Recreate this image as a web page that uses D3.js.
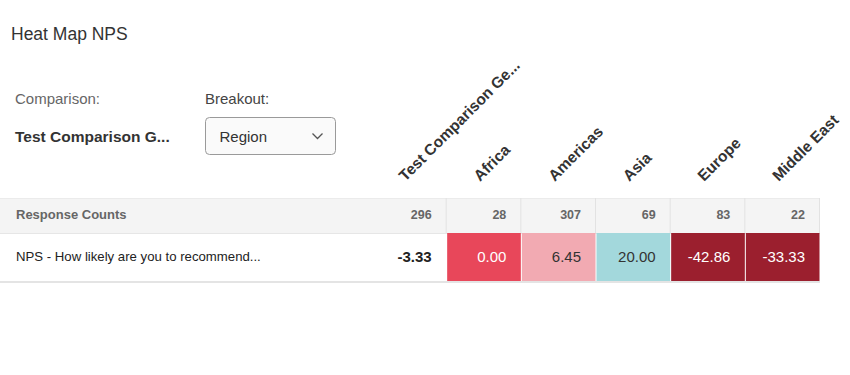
<!DOCTYPE html>
<html>
<head>
<meta charset="utf-8">
<script src="https://cdn.jsdelivr.net/npm/d3@7"></script>
<style>
  body { margin: 0; background: #fff; font-family: "Liberation Sans", Arial, sans-serif; }
</style>
</head>
<body>
<script>
// data
var columns = ["Test Comparison Ge...", "Africa", "Americas", "Asia", "Europe", "Middle East"]
var counts = [296, 28, 307, 69, 83, 22]
var npsValues = [-3.33, 0.00, 6.45, 20.00, -42.86, -33.33]
var rowLabels = ["Response Counts", "NPS - How likely are you to recommend..."]

var width = 850, height = 375

var svg = d3.select("body").append("svg")
  .attr("width", width)
  .attr("height", height)

// header text
svg.append("text").attr("x", 11).attr("y", 40)
  .attr("font-size", 17.5).attr("fill", "#333").text("Heat Map NPS")

svg.append("text").attr("x", 15).attr("y", 104)
  .attr("font-size", 15).attr("fill", "#666").text("Comparison:")
svg.append("text").attr("x", 15).attr("y", 142)
  .attr("font-size", 15.5).attr("font-weight", "bold").attr("fill", "#333").text("Test Comparison G...")

svg.append("text").attr("x", 205).attr("y", 104)
  .attr("font-size", 15).attr("fill", "#444").text("Breakout:")

// dropdown
var dd = svg.append("g").attr("transform", "translate(205.5,117.5)")
dd.append("rect").attr("width", 130).attr("height", 37).attr("rx", 4)
  .attr("fill", "#fafafa").attr("stroke", "#9a9a9a")
dd.append("text").attr("x", 14).attr("y", 24.5)
  .attr("font-size", 15).attr("fill", "#333").text("Region")
dd.append("path").attr("d", "M107,16 L112,21 L117,16")
  .attr("fill", "none").attr("stroke", "#555").attr("stroke-width", 1.3)

// table geometry
var x = d3.scaleBand()
  .domain(columns)
  .range([372, 820])

var headerTop = 198, headerH = 35, rowH = 48
var dataTop = headerTop + headerH

var color = d3.scaleThreshold()
  .domain([-20, 5, 10])
  .range(["#9b1f2e", "#e8475a", "#f2aab2", "#a3d8dc"])
var textColor = function(v) { return (v < 5) ? "#fff" : "#333" }
var fmt = function(v) { return v.toFixed(2) }

// header (counts) row
svg.append("rect").attr("x", 0).attr("y", headerTop)
  .attr("width", 820).attr("height", headerH).attr("fill", "#f4f4f4")
svg.append("line").attr("x1", 0).attr("x2", 820)
  .attr("y1", headerTop + 0.5).attr("y2", headerTop + 0.5).attr("stroke", "#ebebeb")

svg.append("text").attr("x", 16).attr("y", headerTop + 21)
  .attr("font-size", 13).attr("font-weight", "bold").attr("fill", "#666").text(rowLabels[0])

svg.selectAll(".sep")
  .data(columns.slice(1))
  .join("line")
  .attr("x1", d => x(d) - 0.5).attr("x2", d => x(d) - 0.5)
  .attr("y1", headerTop).attr("y2", dataTop)
  .attr("stroke", "#e2e2e2")
svg.append("line").attr("x1", 819.5).attr("x2", 819.5)
  .attr("y1", headerTop).attr("y2", dataTop).attr("stroke", "#e2e2e2")

svg.selectAll(".count")
  .data(counts)
  .join("text")
  .attr("x", (d, i) => x(columns[i]) + x.bandwidth() - 15)
  .attr("y", headerTop + 21)
  .attr("text-anchor", "end")
  .attr("font-size", 12.5).attr("font-weight", "bold").attr("fill", "#666")
  .text(d => d)

// NPS row
svg.append("line").attr("x1", 0).attr("x2", 820)
  .attr("y1", dataTop + 0.5).attr("y2", dataTop + 0.5).attr("stroke", "#e6e6e6")

svg.append("text").attr("x", 16).attr("y", dataTop + 28)
  .attr("font-size", 13.2).attr("fill", "#222").text(rowLabels[1])

svg.selectAll(".cell")
  .data(npsValues.slice(1))
  .join("rect")
  .attr("x", (d, i) => x(columns[i + 1]) + 0.5)
  .attr("y", dataTop)
  .attr("width", x.bandwidth() - 1)
  .attr("height", rowH)
  .attr("fill", d => color(d))

svg.selectAll(".val")
  .data(npsValues)
  .join("text")
  .attr("x", (d, i) => x(columns[i]) + x.bandwidth() - 15)
  .attr("y", dataTop + 29)
  .attr("text-anchor", "end")
  .attr("font-size", 15)
  .attr("font-weight", (d, i) => i == 0 ? "bold" : "normal")
  .attr("fill", (d, i) => i == 0 ? "#222" : textColor(d))
  .text(d => fmt(d))

svg.append("rect").attr("x", 0).attr("y", dataTop + rowH)
  .attr("width", 820).attr("height", 2).attr("fill", "#e4e4e4")

// rotated column labels
svg.selectAll(".colLabel")
  .data(columns)
  .join("text")
  .attr("transform", d => "translate(" + (x(d) + x.bandwidth() / 2 - 4) + ",182) rotate(-45)")
  .attr("font-size", 15.5).attr("font-weight", "bold").attr("fill", "#333")
  .text(d => d)
</script>
</body>
</html>
